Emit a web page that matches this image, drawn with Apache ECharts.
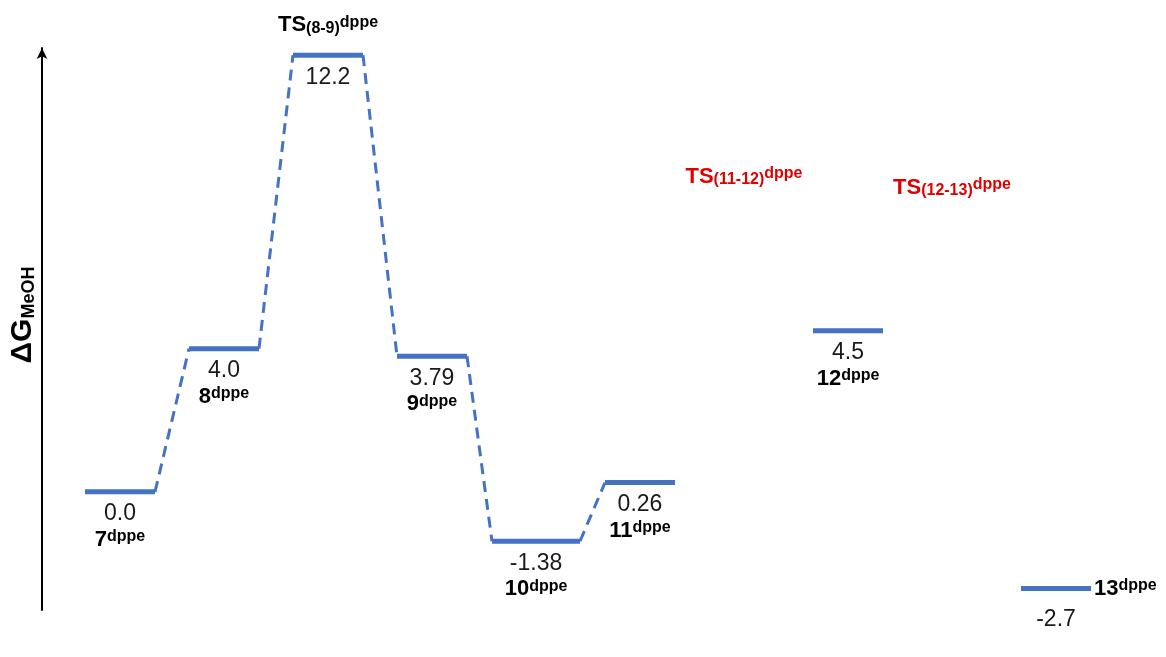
<!DOCTYPE html>
<html>
<head>
<meta charset="utf-8">
<script src="https://cdn.jsdelivr.net/npm/echarts@6/dist/echarts.min.js"></script>
<style>
  html, body { margin: 0; padding: 0; background: #ffffff; }
  #chart { width: 1166px; height: 657px; }
</style>
</head>
<body>
<div id="chart"></div>
<script>
// ---------- DATA ----------
const categories = ['7', '8', 'TS(8-9)', '9', '10', '11', 'TS(11-12)', '12', 'TS(12-13)', '13'];
const energies   = [0.0, 4.0, 12.2, 3.79, -1.38, 0.26, null, 4.5, null, -2.7];
const valueLabels = ['0.0', '4.0', '12.2', '3.79', '-1.38', '0.26', null, '4.5', null, '-2.7'];
const nameMain   = ['7', '8', 'TS', '9', '10', '11', 'TS', '12', 'TS', '13'];
const nameSub    = ['', '', '(8-9)', '', '', '', '(11-12)', '', '(12-13)', ''];
const nameSup    = ['dppe', 'dppe', 'dppe', 'dppe', 'dppe', 'dppe', 'dppe', 'dppe', 'dppe', 'dppe'];
const links      = [[0, 1], [1, 2], [2, 3], [3, 4], [4, 5]];
const axisTitle  = 'ΔG';
const axisSub    = 'MeOH';

// ---------- LAYOUT / STYLE ----------
const FONT = '"Liberation Sans", Arial, sans-serif';
const BLUE = '#4472C4';
const RED = '#E00000';
const halfWidth = {default: 35, 4: 44};
const nameSide = {2: 'above', 9: 'right'};
const valueGap = {default: 22, 9: 31};
const pendingLabelY = {6: 8.8, 8: 8.5};   // vertical placement of labels with no computed level

function hw(i) { return halfWidth[i] != null ? halfWidth[i] : halfWidth.default; }

function richName(i, color) {
  let t = '{m|' + nameMain[i] + '}';
  if (nameSub[i]) t += '{b|' + nameSub[i] + '}';
  if (nameSup[i]) t += '{p|' + nameSup[i] + '}';
  const isTS = !!nameSub[i];
  return {
    text: t,
    align: 'center',
    verticalAlign: 'middle',
    rich: {
      m: {fontSize: isTS ? 22 : 22, fontWeight: 'bold', fontFamily: FONT, lineHeight: 22, verticalAlign: 'middle', fill: color},
      b: {fontSize: 16, fontWeight: 'bold', fontFamily: FONT, lineHeight: 10, verticalAlign: 'bottom', fill: color},
      p: {fontSize: 16, fontWeight: 'bold', fontFamily: FONT, lineHeight: 16, verticalAlign: 'top', fill: color}
    }
  };
}

function renderItem(params, api) {
  const i = params.dataIndex;
  const e = energies[i];
  const children = [];
  if (e == null) {
    const p = api.coord([i, pendingLabelY[i]]);
    const st = richName(i, RED);
    children.push({type: 'text', x: p[0], y: p[1], style: st});
    return {type: 'group', children: children};
  }
  const p = api.coord([i, e]);
  const h = hw(i);
  children.push({
    type: 'line',
    shape: {x1: p[0] - h, y1: p[1], x2: p[0] + h, y2: p[1]},
    style: {stroke: BLUE, lineWidth: 5}
  });
  links.forEach(function (l) {
    if (l[0] === i && energies[l[1]] != null) {
      const q = api.coord([l[1], energies[l[1]]]);
      children.push({
        type: 'line',
        shape: {x1: p[0] + h, y1: p[1], x2: q[0] - hw(l[1]), y2: q[1]},
        style: {stroke: BLUE, lineWidth: 3, lineDash: [11, 7]}
      });
    }
  });
  const vg = valueGap[i] != null ? valueGap[i] : valueGap.default;
  children.push({
    type: 'text', x: p[0], y: p[1] + vg,
    style: {text: valueLabels[i], fontSize: 23, fontFamily: FONT, fill: '#1a1a1a', align: 'center', verticalAlign: 'middle'}
  });
  const side = nameSide[i];
  const ns = richName(i, '#000');
  if (side === 'above') {
    children.push({type: 'text', x: p[0], y: p[1] - 30, style: ns});
  } else if (side === 'right') {
    ns.align = 'left';
    children.push({type: 'text', x: p[0] + h + 3, y: p[1], style: ns});
  } else {
    children.push({type: 'text', x: p[0], y: p[1] + vg + 26, style: ns});
  }
  return {type: 'group', children: children};
}

const chart = echarts.init(document.getElementById('chart'), null, {renderer: 'canvas'});
chart.setOption({
  animation: false,
  backgroundColor: '#ffffff',
  grid: {left: 68, right: 58, top: 48, height: 562, outerBoundsMode: 'none', containLabel: false},
  xAxis: {type: 'category', data: categories, show: false},
  yAxis: {
    type: 'value', min: -3.3, max: 12.4, offset: 26,
    name: '{a|' + axisTitle + '}{b|' + axisSub + '}',
    nameLocation: 'middle', nameRotate: 90, nameGap: 4,
    nameTextStyle: {
      padding: [0, 0, 0, 28],
      rich: {
        a: {fontSize: 30, fontWeight: 'bold', fontFamily: FONT, color: '#000', lineHeight: 30, verticalAlign: 'middle'},
        b: {fontSize: 18, fontWeight: 'bold', fontFamily: FONT, color: '#000', lineHeight: 8, verticalAlign: 'bottom'}
      }
    },
    axisLine: {show: true, symbol: ['none', 'arrow'], symbolSize: [8, 11], lineStyle: {color: '#000', width: 2}},
    axisTick: {show: false},
    axisLabel: {show: false},
    splitLine: {show: false}
  },
  series: [{
    type: 'custom',
    renderItem: renderItem,
    clip: false,
    data: categories.map(function (c, i) { return [i, energies[i] != null ? energies[i] : pendingLabelY[i]]; })
  }]
});
</script>
</body>
</html>
